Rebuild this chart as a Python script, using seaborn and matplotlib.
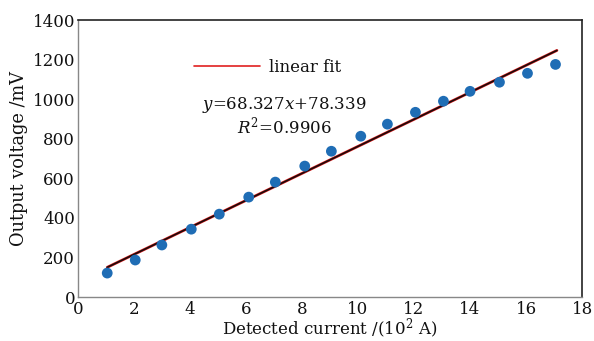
import matplotlib
matplotlib.use("Agg")
import matplotlib.pyplot as plt
import seaborn as sns
import numpy as np
import pandas as pd

# Data
current = [1.05, 2.05, 3.0, 4.05, 5.05, 6.1, 7.05, 8.1, 9.05, 10.1, 11.05, 12.05, 13.05, 14.0, 15.05, 16.05, 17.05]
voltage = [121, 187, 263, 343, 419, 505, 581, 662, 737, 813, 874, 934, 990, 1040, 1086, 1131, 1176]
slope = 68.327
intercept = 78.339
r_squared = 0.9906
x_ticks = [0, 2, 4, 6, 8, 10, 12, 14, 16, 18]
y_ticks = [0, 200, 400, 600, 800, 1000, 1200, 1400]

sns.set_theme(style="white")
plt.rcParams['font.family'] = ['DejaVu Serif']
plt.rcParams['mathtext.fontset'] = 'dejavuserif'
plt.rcParams['text.color'] = '#111111'

fig = plt.figure(figsize=(5.94, 3.41), dpi=100)
ax = fig.add_axes([0.131, 0.129, 0.849, 0.812])

df = pd.DataFrame({"current": current, "voltage": voltage})
fit_x = [current[0], current[-1] + 0.05]
fit_df = pd.DataFrame({"x": fit_x, "y": [slope * v + intercept for v in fit_x]})

sns.lineplot(data=fit_df, x="x", y="y", ax=ax, color="#e02020", lw=2.0, label="linear fit", zorder=2)
ax.plot(fit_df["x"], fit_df["y"], color="#1a0a0a", lw=1.2, zorder=3)
sns.scatterplot(data=df, x="current", y="voltage", ax=ax, color="#1f6db5", s=60,
                edgecolor="none", zorder=4, legend=False)

ax.set_xlim(0, 18)
ax.set_ylim(0, 1400)
ax.set_xticks(x_ticks)
ax.set_yticks(y_ticks)
ax.tick_params(axis='both', labelsize=12, direction='in', length=3, color='#888888',
               labelcolor='#111111', pad=2)
ax.tick_params(axis='x', pad=3)
ax.set_xlabel(r"Detected current /(10$^2$ A)", fontsize=12, labelpad=-1, color='#111111')
ax.set_ylabel("Output voltage /mV", fontsize=12.8, labelpad=3, color='#111111')

for s in ['left', 'bottom']:
    ax.spines[s].set_color('#888888')
    ax.spines[s].set_linewidth(1.0)
for s in ['top', 'right']:
    ax.spines[s].set_color('#222222')
    ax.spines[s].set_linewidth(1.2)

leg = ax.legend(loc='upper left', bbox_to_anchor=(0.2, 0.915), frameon=False,
                fontsize=12, handlelength=4.0, handletextpad=0.5)
leg.get_lines()[0].set_linewidth(1.2)

ax.text(7.36, 970, r"$y$=68.327$x$+78.339", fontsize=12, ha='center', va='center')
ax.text(7.36, 862, r"$R^2$=0.9906", fontsize=12, ha='center', va='center')

fig.savefig("out.png", dpi=100)
